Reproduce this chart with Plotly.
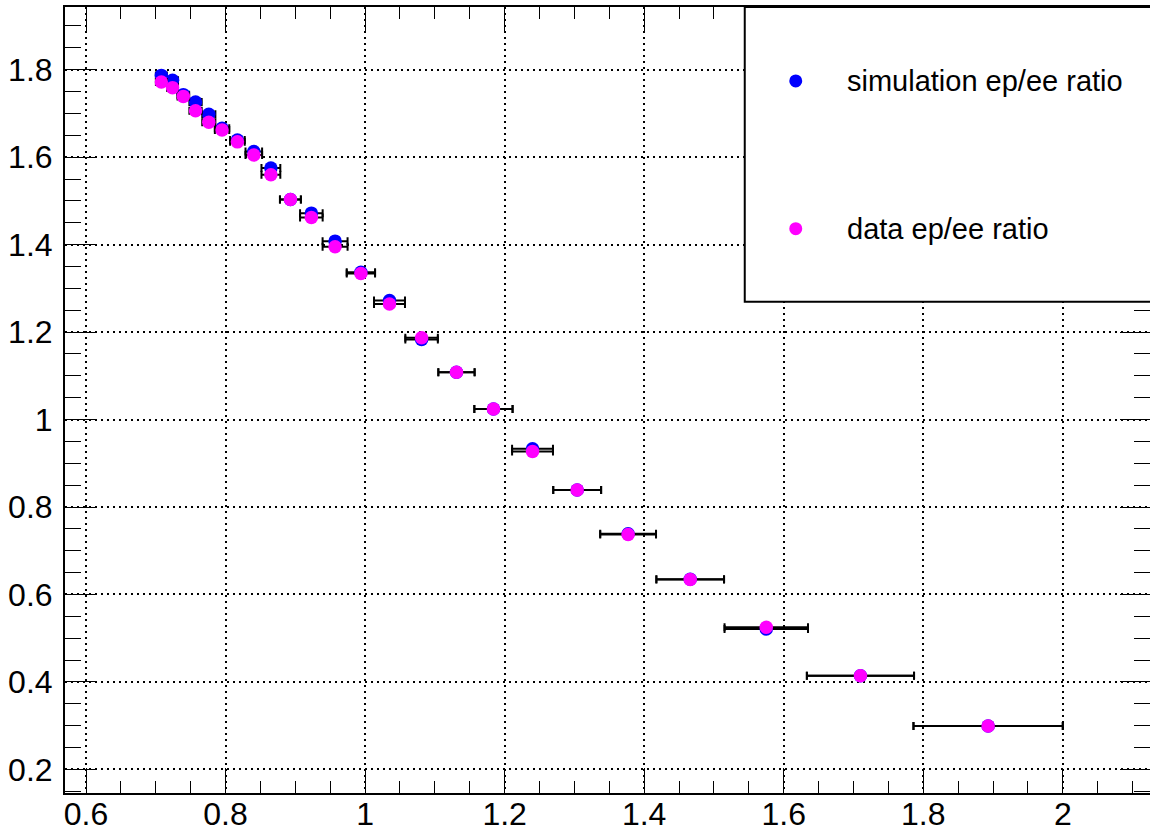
import plotly.graph_objects as go

# ---- data ----
x_centers = [0.708, 0.724, 0.7395, 0.757, 0.776, 0.795, 0.817, 0.8405, 0.865, 0.893,
             0.923, 0.957, 0.994, 1.035, 1.081, 1.131, 1.184, 1.240, 1.304, 1.377,
             1.466, 1.575, 1.710, 1.893]
x_halfwidth = [0.0078, 0.0079, 0.0083, 0.0088, 0.0094, 0.0103, 0.0105, 0.0119, 0.0135, 0.015,
               0.0162, 0.0179, 0.0203, 0.0222, 0.0233, 0.026, 0.0274, 0.0293, 0.0343, 0.040,
               0.0485, 0.0598, 0.0768, 0.107]
sim_ratio = [1.787, 1.776, 1.743, 1.726, 1.698, 1.666, 1.639, 1.613, 1.575, 1.503,
             1.472, 1.408, 1.337, 1.272, 1.183, 1.108, 1.024, 0.933, 0.839, 0.739,
             0.635, 0.521, 0.414, 0.299]
data_ratio = [1.772, 1.759, 1.739, 1.706, 1.680, 1.662, 1.635, 1.605, 1.560, 1.503,
              1.462, 1.395, 1.334, 1.264, 1.187, 1.108, 1.024, 0.927, 0.839, 0.737,
              0.634, 0.525, 0.414, 0.299]
series_names = ["simulation ep/ee ratio", "data ep/ee ratio"]
series_colors = ["#0000ff", "#ff00ff"]

FONT = "Liberation Sans, Arial, Helvetica, sans-serif"

fig = go.Figure()
for yvals, name, col in zip([sim_ratio, data_ratio], series_names, series_colors):
    fig.add_trace(go.Scatter(
        x=x_centers, y=yvals, mode="markers", name=name,
        marker=dict(color=col, size=13.5, line=dict(width=0)),
        error_x=dict(type="data", array=x_halfwidth, visible=True,
                     color="black", thickness=2, width=4),
        showlegend=False,
    ))

grid_common = dict(
    showline=True, linecolor="black", linewidth=2, mirror="allticks",
    ticks="inside", tickcolor="black", tickwidth=1,
    showgrid=True, gridcolor="black", gridwidth=2, griddash="2px,4px",
    zeroline=False, automargin=False,
    tickfont=dict(family=FONT, size=32, color="black"),
)

fig.update_xaxes(range=[0.5699, 2.125], tick0=0, dtick=0.2, ticklen=25,
                 minor=dict(dtick=0.05, ticks="inside", ticklen=12, tickcolor="black",
                            tickwidth=1, showgrid=False),
                 ticklabelstandoff=-8,
                 **grid_common)
fig.update_yaxes(range=[0.146, 1.9434], tick0=0, dtick=0.2, ticklen=30,
                 minor=dict(dtick=0.05, ticks="inside", ticklen=16, tickcolor="black",
                            tickwidth=1, showgrid=False),
                 ticklabelstandoff=4,
                 **grid_common)

# legend box (drawn as shapes/annotations to mimic the ROOT TLegend)
shapes = [dict(type="rect", xref="paper", yref="paper", x0=0.6265, x1=1.02, y0=0.625, y1=1.0,
               fillcolor="white", line=dict(color="black", width=2), layer="above")]
legend_y = [0.9059, 0.718]
annotations = []
for name, col, ly in zip(series_names, series_colors, legend_y):
    shapes.append(dict(type="circle", xref="paper", yref="paper", xsizemode="pixel",
                       ysizemode="pixel", xanchor=0.6735, yanchor=ly, x0=-6.5, x1=6.5,
                       y0=-6.5, y1=6.5, fillcolor=col, line=dict(width=0), layer="above"))
    annotations.append(dict(xref="paper", yref="paper", x=0.7187, y=ly, text=name,
                            showarrow=False, xanchor="left", yanchor="middle",
                            font=dict(family=FONT, size=29, color="black")))

fig.update_layout(
    width=1150, height=832,
    margin=dict(l=65, r=0, t=7, b=39),
    paper_bgcolor="white", plot_bgcolor="white",
    shapes=shapes, annotations=annotations,
    showlegend=False,
)

fig.write_html("out.html")
